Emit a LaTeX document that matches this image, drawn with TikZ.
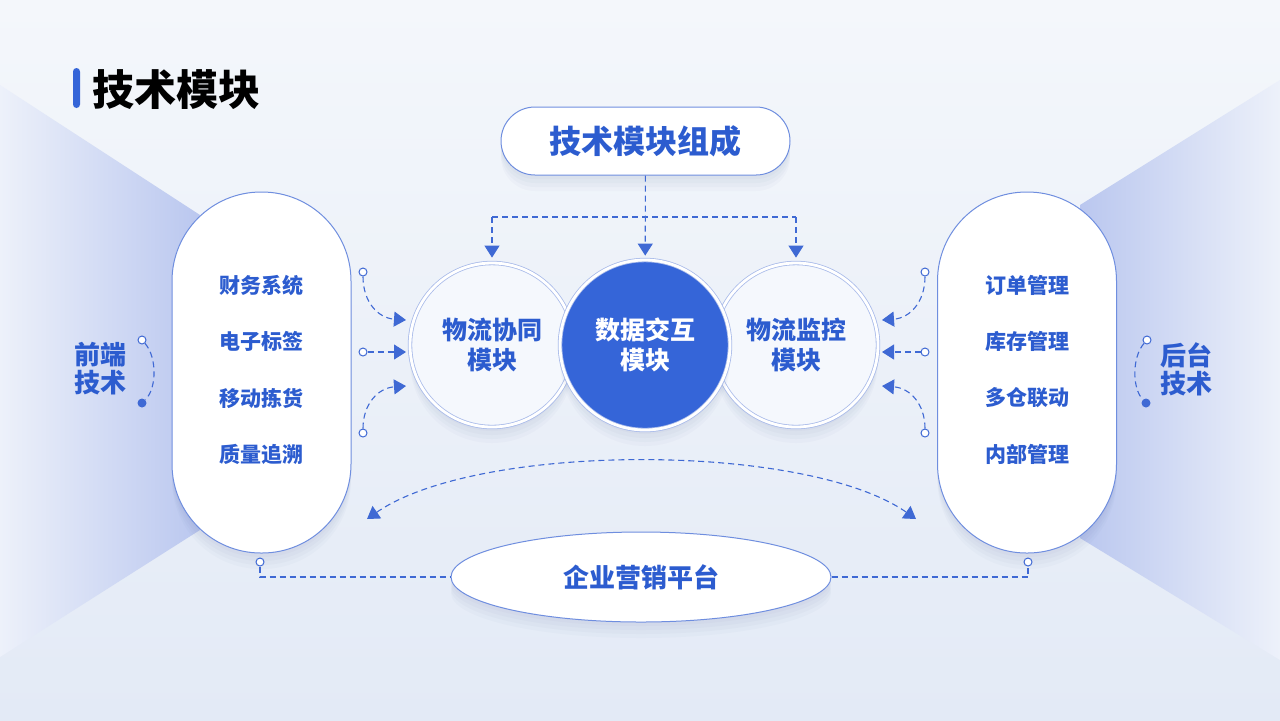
\documentclass[tikz,border=0pt]{standalone}
\usepackage{fontspec}
\setmainfont{Noto Sans CJK SC}
\usetikzlibrary{arrows.meta,shapes.geometric}
\definecolor{bgtop}{HTML}{F4F7FB}
\definecolor{bgbot}{HTML}{E3EAF6}
\definecolor{wingl}{HTML}{EDF1FA}
\definecolor{wingr}{HTML}{BAC7EF}
\definecolor{mainblue}{HTML}{3565D8}
\definecolor{txtblue}{HTML}{2C5CCF}
\definecolor{lineblue}{HTML}{3F69D4}
\definecolor{ringblue}{HTML}{A9BBEA}
\definecolor{edgeblue}{HTML}{6F8EDF}
\definecolor{circfill}{HTML}{F5F8FD}
\definecolor{shadowcol}{HTML}{5A6E9E}
\begin{document}
\begin{tikzpicture}[x=0.5pt,y=-0.5pt,
  softshadow/.style={
    preaction={fill=shadowcol,opacity=0.035,transform canvas={yshift=-2pt}},
    preaction={fill=shadowcol,opacity=0.035,transform canvas={yshift=-4pt}},
    preaction={fill=shadowcol,opacity=0.035,transform canvas={yshift=-6pt}},
    preaction={fill=shadowcol,opacity=0.03,transform canvas={yshift=-8pt}}},
  pill/.style={draw=edgeblue,line width=0.5pt,fill=white,rounded corners=44.5pt,minimum width=89.5pt,minimum height=180.5pt,inner sep=0pt,softshadow},
  toppill/.style={draw=edgeblue,line width=0.5pt,fill=white,rounded corners=17pt,minimum width=144.5pt,minimum height=34pt,inner sep=0pt,softshadow,text=txtblue,font=\fontsize{16}{18}\selectfont\bfseries},
  item/.style={text=txtblue,font=\fontsize{10.5}{12}\selectfont\bfseries,inner sep=0pt},
  side/.style={text=txtblue,font=\fontsize{13}{14}\selectfont\bfseries,align=center,inner sep=0pt},
  modc/.style={circle,draw=ringblue,line width=0.4pt,double=white,double distance=1.4pt,fill=circfill,minimum size=82pt,inner sep=0pt,align=center,text=txtblue,font=\fontsize{12.5}{15}\selectfont\bfseries,softshadow},
  midc/.style={circle,draw=ringblue,line width=0.4pt,double=white,double distance=1.4pt,fill=mainblue,minimum size=85pt,inner sep=0pt,align=center,text=white,font=\fontsize{12.5}{15}\selectfont\bfseries,softshadow},
  entell/.style={ellipse,draw=edgeblue,line width=0.5pt,fill=white,minimum width=190pt,minimum height=45pt,inner sep=0pt,text=txtblue,font=\fontsize{13}{15}\selectfont\bfseries,softshadow},
  hole/.style={circle,draw=lineblue,line width=0.5pt,fill=white,minimum size=4pt,inner sep=0pt},
  fdot/.style={circle,fill=lineblue,minimum size=4.5pt,inner sep=0pt},
  dl/.style={draw=lineblue,line width=0.55pt,dash pattern=on 3pt off 2pt},
  arr/.style={-{Triangle[length=6pt,width=7.5pt]}},
  barrow/.style={{Triangle[length=6pt,width=7.5pt]}-{Triangle[length=6pt,width=7.5pt]}}
]
\useasboundingbox (0,0) rectangle (1280,720);
% background
\shade[top color=bgtop,bottom color=bgbot] (0,0) rectangle (1280,720);
\shade[left color=wingl,right color=wingr] (0,85) -- (200,215) -- (200,530) -- (0,657) -- cycle;
\shade[left color=wingr,right color=wingl] (1080,205) -- (1280,80) -- (1280,660) -- (1080,538) -- cycle;

% title
\node[fill=mainblue,rounded corners=1.75pt,minimum width=3.5pt,minimum height=20pt,inner sep=0pt] (bar) at (76.5,88) {};
\node[anchor=west,inner sep=0pt,font=\fontsize{21}{24}\selectfont\bfseries] (title) at (92,90) {技术模块};

% pills
\node[pill] (lp) at (261.5,372.5) {};
\node[pill] (rp) at (1027,372.5) {};
\node[item] (l1) at (261,285) {财务系统};
\node[item] (l2) at (261,341) {电子标签};
\node[item] (l3) at (261,398) {移动拣货};
\node[item] (l4) at (261,454) {质量追溯};
\node[item] (r1) at (1027,285) {订单管理};
\node[item] (r2) at (1027,341) {库存管理};
\node[item] (r3) at (1027,398) {多仓联动};
\node[item] (r4) at (1027,454) {内部管理};

% side labels
\node[side] (fe) at (100,369) {前端\\技术};
\node[side] (bk) at (1186,369) {后台\\技术};
\node[hole] (feh) at (142,340) {};
\node[fdot] (fed) at (142,403) {};
\draw[dl] (feh) .. controls (157,357) and (157,388) .. (fed);
\node[hole] (bkh) at (1147,340) {};
\node[fdot] (bkd) at (1146,403) {};
\draw[dl] (bkh) .. controls (1132,357) and (1132,388) .. (bkd);

% top box
\node[toppill] (top) at (645.5,141) {技术模块组成};

% module circles
\node[modc] (m1) at (492,345) {物流协同\\模块};
\node[modc] (m3) at (796,345) {物流监控\\模块};
\node[midc] (m2) at (645,345) {数据交互\\模块};

% top connectors
\coordinate (jl) at (492,217);
\coordinate (jr) at (796,217);
\draw[dl] (jl) -- (jr);
\draw[dl,arr,shorten >=2pt] (top) -- (m2);
\draw[dl,arr,shorten >=2.5pt] (jl) -- (m1);
\draw[dl,arr,shorten >=2.5pt] (jr) -- (m3);

% left inputs
\node[hole] (lh1) at (363,272) {};
\node[hole] (lh2) at (363,352) {};
\node[hole] (lh3) at (363,433) {};
\coordinate (la1) at (406,320);
\coordinate (la2) at (406,352);
\coordinate (la3) at (406,386);
\draw[dl,arr] (lh1) .. controls (363,302) and (378,318) .. (la1);
\draw[dl,arr] (lh2) -- (la2);
\draw[dl,arr] (lh3) .. controls (363,404) and (378,388) .. (la3);

% right inputs
\node[hole] (rh1) at (925,272) {};
\node[hole] (rh2) at (925,352) {};
\node[hole] (rh3) at (925,433) {};
\coordinate (ra1) at (882,320);
\coordinate (ra2) at (882,352);
\coordinate (ra3) at (882,386);
\draw[dl,arr] (rh1) .. controls (925,302) and (910,318) .. (ra1);
\draw[dl,arr] (rh2) -- (ra2);
\draw[dl,arr] (rh3) .. controls (925,404) and (910,388) .. (ra3);

% bottom arc
\coordinate (arcL) at (367,519);
\coordinate (arcR) at (916,519);
\draw[dl,barrow] (arcL) .. controls (478,442) and (806,442) .. (arcR);

% enterprise platform
\node[entell] (ent) at (641,577) {企业营销平台};
\node[hole] (lb) at (260,562) {};
\node[hole] (rb) at (1028,562) {};
\draw[dl] (lb) |- (ent.west);
\draw[dl] (ent.east) -| (rb);
\end{tikzpicture}
\end{document}
